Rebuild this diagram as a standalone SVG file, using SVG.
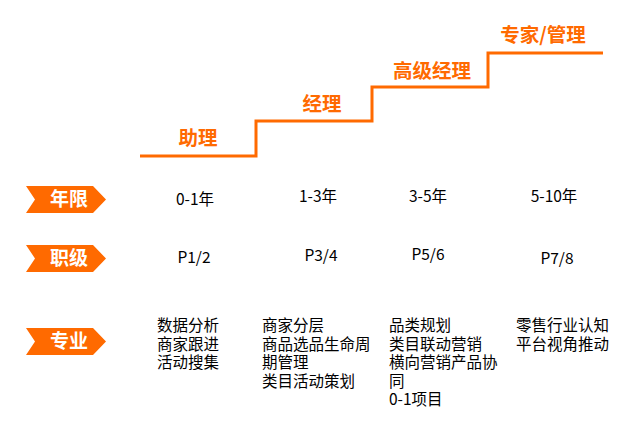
<svg xmlns="http://www.w3.org/2000/svg" width="644" height="422" viewBox="0 0 644 422">
<style>
.lvl{font-family:"Noto Sans CJK SC","Noto Sans",sans-serif;font-size:19.5px;font-weight:bold;fill:#FF6A00;text-anchor:middle}
.tagt{font-family:"Noto Sans CJK SC","Noto Sans",sans-serif;font-size:19px;font-weight:bold;fill:#fff;text-anchor:middle}
.val{font-family:"Noto Sans CJK SC","Noto Sans",sans-serif;font-size:15.5px;fill:#000;text-anchor:middle}
.sk{font-family:"Noto Sans CJK SC","Noto Sans",sans-serif;font-size:15.5px;fill:#000}
.tag{fill:#FF6A00}
</style>
<rect width="644" height="422" fill="#fff"/>
<g id="connectors">
<path d="M140,156 H256 V121 H372 V87 H488 V53 H603" fill="none" stroke="#FF6A00" stroke-width="3"/>
</g>
<g id="level-assistant"><text class="lvl" x="198" y="145">助理</text></g>
<g id="level-manager"><text class="lvl" x="322" y="111">经理</text></g>
<g id="level-senior"><text class="lvl" x="432" y="78">高级经理</text></g>
<g id="level-expert"><text class="lvl" x="543" y="42">专家/管理</text></g>
<g id="tag-years"><polygon class="tag" points="26,186 93,186 106,199.5 93,213 26,213 35,199.5"/><text class="tagt" x="69" y="206">年限</text></g>
<g id="tag-grade"><polygon class="tag" points="26,245 93,245 106,258.5 93,272 26,272 35,258.5"/><text class="tagt" x="69" y="265">职级</text></g>
<g id="tag-skill"><polygon class="tag" points="26,328 93,328 106,341.5 93,355 26,355 35,341.5"/><text class="tagt" x="69" y="348">专业</text></g>
<g id="years">
<text class="val" x="195" y="205">0-1年</text>
<text class="val" x="318" y="202">1-3年</text>
<text class="val" x="428" y="202">3-5年</text>
<text class="val" x="554" y="202">5-10年</text>
</g>
<g id="grades">
<text class="val" x="194" y="263">P1/2</text>
<text class="val" x="321" y="261">P3/4</text>
<text class="val" x="428" y="260">P5/6</text>
<text class="val" x="557" y="264">P7/8</text>
</g>
<g id="skills-1"><text class="sk" y="331"><tspan x="157">数据分析</tspan><tspan x="157" dy="18.5">商家跟进</tspan><tspan x="157" dy="18.5">活动搜集</tspan></text></g>
<g id="skills-2"><text class="sk" y="331"><tspan x="262">商家分层</tspan><tspan x="262" dy="18.5">商品选品生命周</tspan><tspan x="262" dy="18.5">期管理</tspan><tspan x="262" dy="18.5">类目活动策划</tspan></text></g>
<g id="skills-3"><text class="sk" y="331"><tspan x="389">品类规划</tspan><tspan x="389" dy="18.5">类目联动营销</tspan><tspan x="389" dy="18.5">横向营销产品协</tspan><tspan x="389" dy="18.5">同</tspan><tspan x="389" dy="18.5">0-1项目</tspan></text></g>
<g id="skills-4"><text class="sk" y="331"><tspan x="516">零售行业认知</tspan><tspan x="516" dy="18.5">平台视角推动</tspan></text></g>
</svg>
